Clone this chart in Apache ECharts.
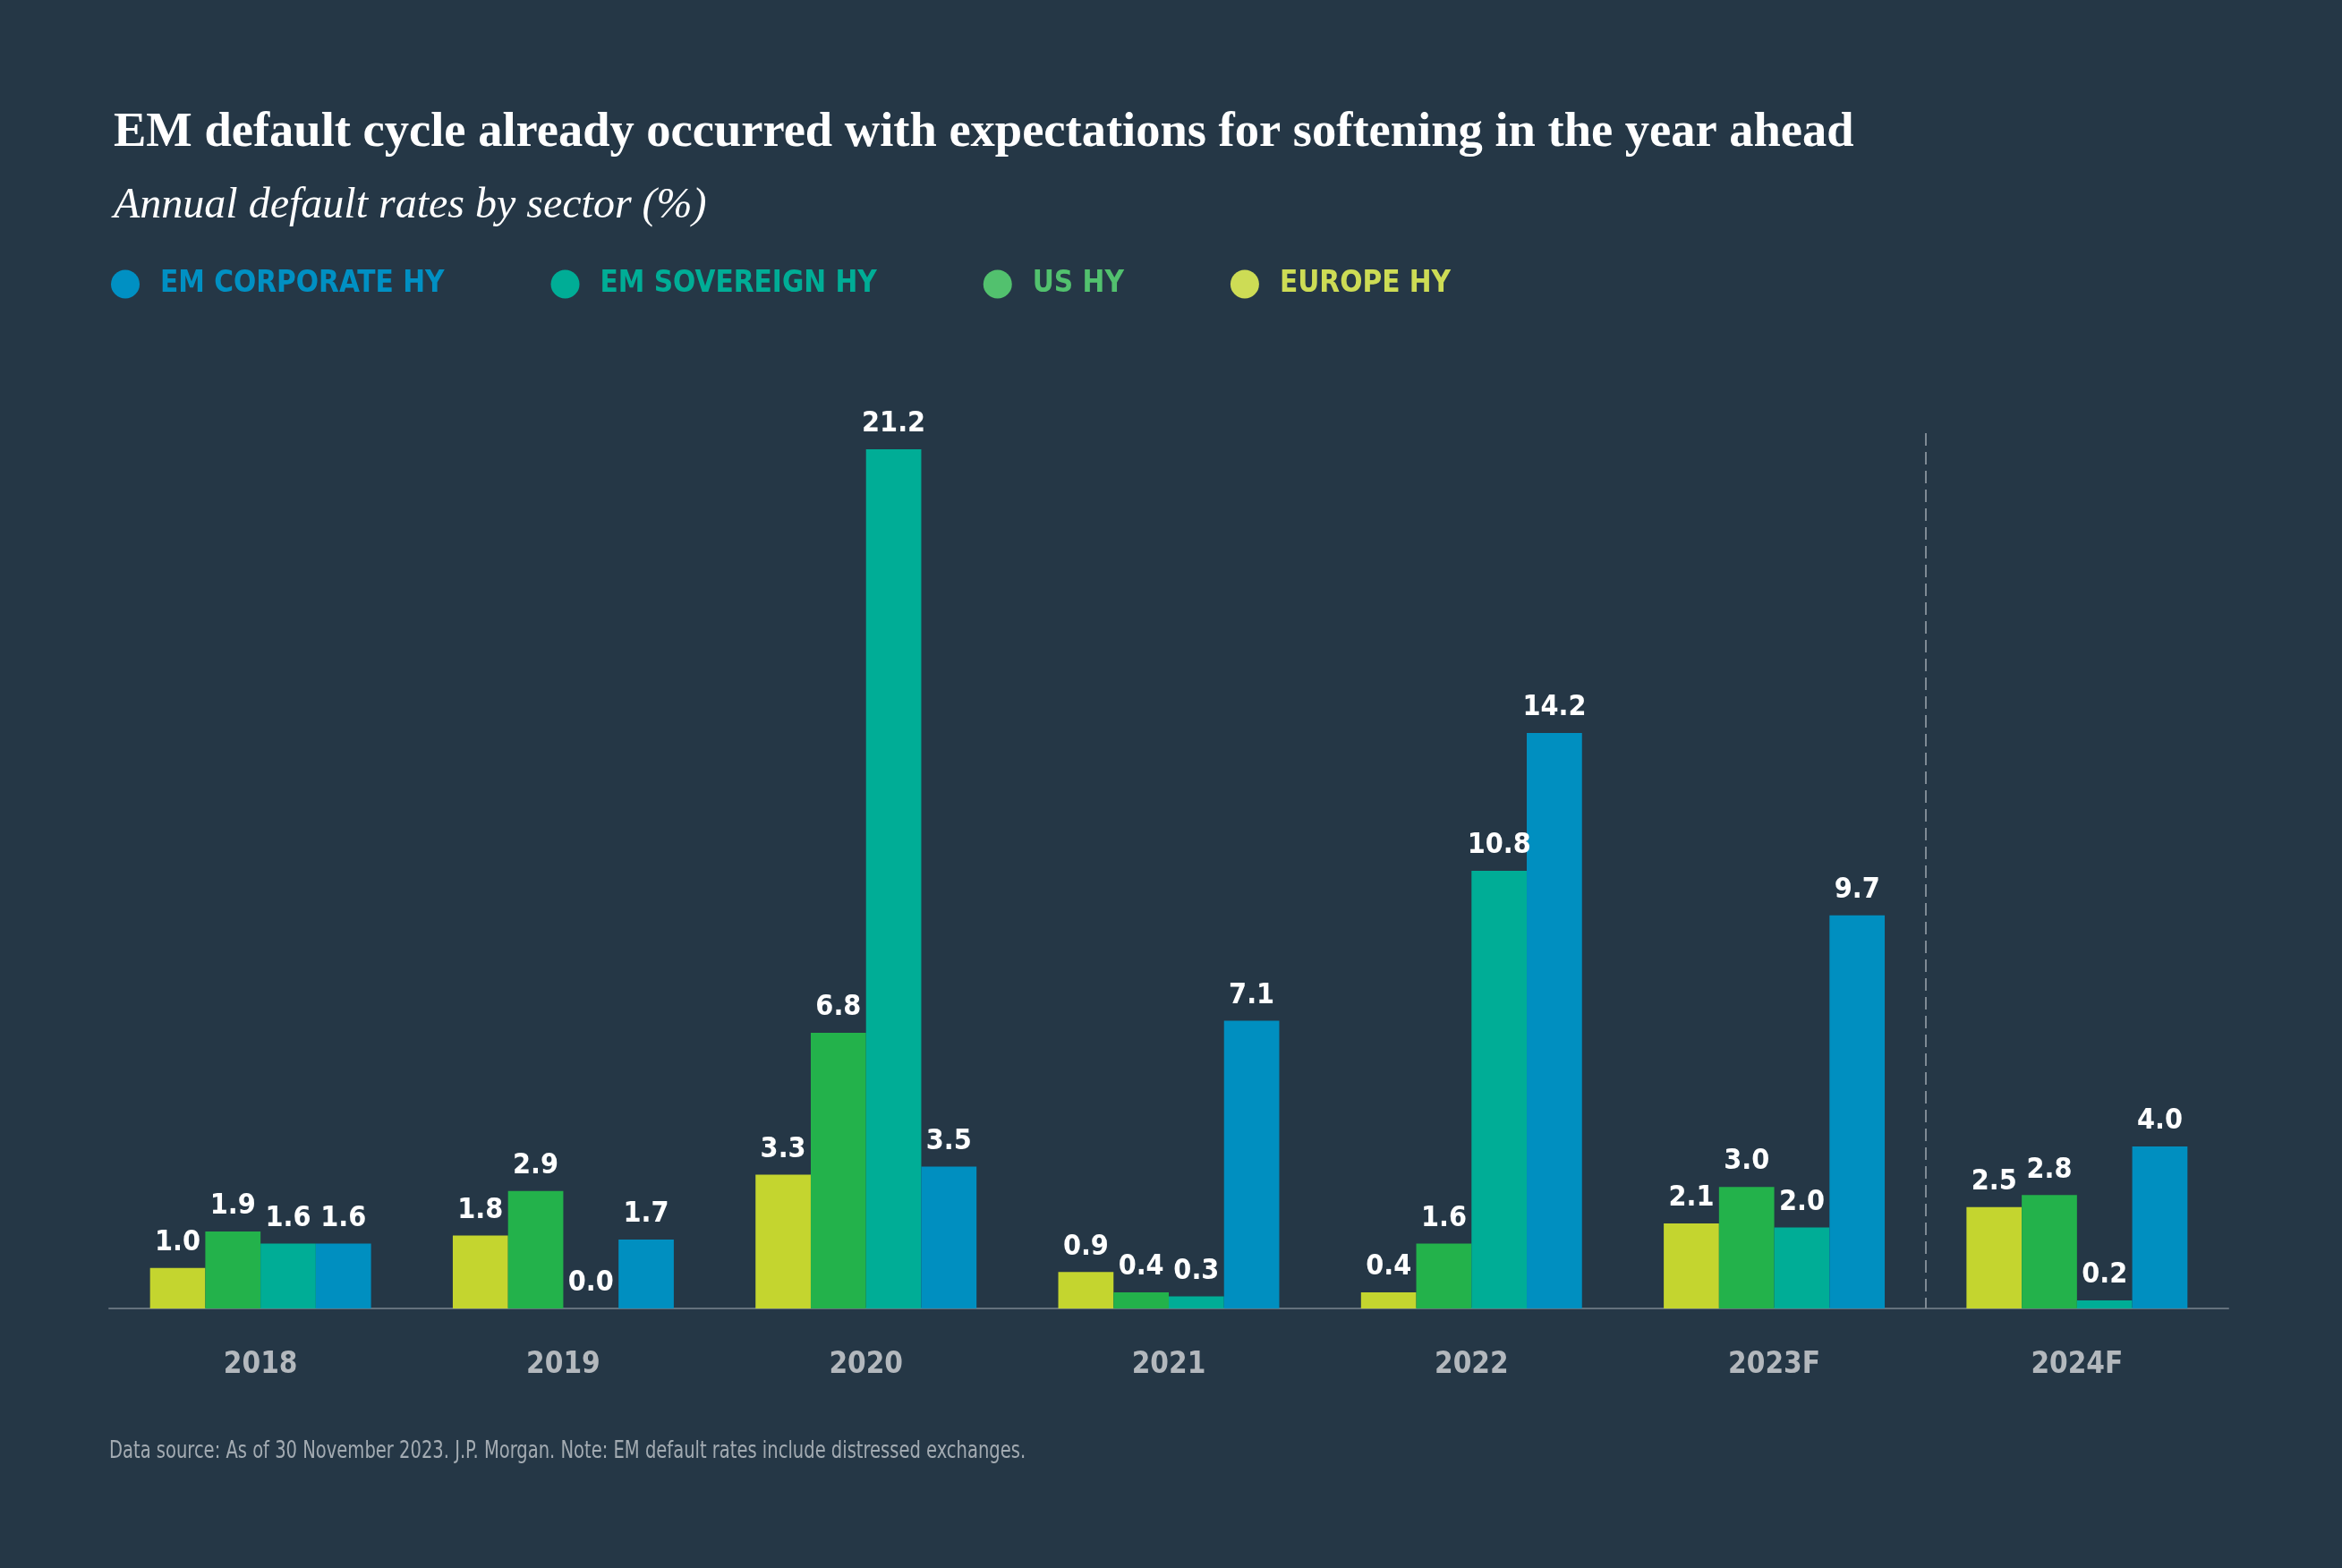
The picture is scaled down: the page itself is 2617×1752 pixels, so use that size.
<!DOCTYPE html>
<html>
<head>
<meta charset="utf-8">
<script src="https://cdn.jsdelivr.net/npm/echarts@6/dist/echarts.min.js"></script>
<style>
  html, body { margin: 0; padding: 0; background: #253746; }
  #chart { width: 2617px; height: 1752px; }
</style>
</head>
<body>
<div id="chart"></div>
<script>
// 数据
var years = ['2018', '2019', '2020', '2021', '2022', '2023F', '2024F'];
var europeHY = [1.0, 1.8, 3.3, 0.9, 0.4, 2.1, 2.5];
var usHY = [1.9, 2.9, 6.8, 0.4, 1.6, 3.0, 2.8];
var emSovereignHY = [1.6, 0.0, 21.2, 0.3, 10.8, 2.0, 0.2];
var emCorporateHY = [1.6, 1.7, 3.5, 7.1, 14.2, 9.7, 4.0];
var yMax = 21.6;

var condensed = '"Liberation Sans Narrow", "DejaVu Sans Condensed", "Roboto", sans-serif';
var serif = '"Liberation Serif", "DejaVu Serif", serif';

var chart = echarts.init(document.getElementById('chart'));

// 柱子标签
function barLabel() {
  return {
    show: true,
    position: 'top',
    distance: 12,
    color: '#ffffff',
    fontFamily: condensed,
    fontWeight: 'bold',
    fontSize: 32,
    formatter: function (p) { return p.value.toFixed(1); }
  };
}

function barSeries(name, data, color) {
  return {
    name: name,
    type: 'bar',
    data: data,
    barGap: '0%',
    barCategoryGap: '27%',
    itemStyle: { color: color },
    label: barLabel()
  };
}

var option = {
  backgroundColor: '#253746',
  animation: false,
  title: [{
    text: 'EM default cycle already occurred with expectations for softening in the year ahead',
    left: 122,
    top: 116,
    textStyle: { color: '#ffffff', fontFamily: serif, fontWeight: 'bold', fontSize: 54.5 }
  }, {
    text: 'Annual default rates by sector (%)',
    left: 122,
    top: 201,
    textStyle: { color: '#ffffff', fontFamily: serif, fontStyle: 'italic', fontWeight: 'normal', fontSize: 48 }
  }],
  legend: {
    left: 124,
    top: 301,
    padding: 0,
    icon: 'circle',
    itemWidth: 32,
    itemHeight: 32,
    itemGap: 119,
    textStyle: {
      fontFamily: condensed,
      fontWeight: 'bold',
      fontSize: 33,
      padding: [0, 0, 0, 18]
    },
    data: [
      { name: 'EM CORPORATE HY', textStyle: { color: '#0090c3' }, itemStyle: { color: '#0090c3' } },
      { name: 'EM SOVEREIGN HY', textStyle: { color: '#00ad96' }, itemStyle: { color: '#00ad96' } },
      { name: 'US HY', textStyle: { color: '#52c16e' }, itemStyle: { color: '#52c16e' } },
      { name: 'EUROPE HY', textStyle: { color: '#cddc55' }, itemStyle: { color: '#cddc55' } }
    ]
  },
  grid: { left: 122, right: 127, top: 484, bottom: 290, containLabel: false },
  xAxis: {
    type: 'category',
    data: years,
    axisLine: { lineStyle: { color: '#64717d', width: 2 } },
    axisTick: { show: false },
    axisLabel: {
      color: '#b3b8bd',
      fontFamily: condensed,
      fontWeight: 'bold',
      fontSize: 33,
      margin: 47
    },
    splitLine: { show: false }
  },
  yAxis: {
    type: 'value',
    min: 0,
    max: yMax,
    show: false,
    splitLine: { show: false }
  },
  series: [
    barSeries('EUROPE HY', europeHY, '#c4d52f'),
    barSeries('US HY', usHY, '#23b24b'),
    barSeries('EM SOVEREIGN HY', emSovereignHY, '#00ad96'),
    barSeries('EM CORPORATE HY', emCorporateHY, '#008fc0')
  ]
};

chart.setOption(option);

// 预测年份分隔虚线 + 脚注
var xA = chart.convertToPixel({ xAxisIndex: 0 }, '2023F');
var xB = chart.convertToPixel({ xAxisIndex: 0 }, '2024F');
var yBottom = chart.convertToPixel({ yAxisIndex: 0 }, 0);
var yTop = chart.convertToPixel({ yAxisIndex: 0 }, yMax);
var xMid = Math.round((xA + xB) / 2);

chart.setOption({
  graphic: [{
    type: 'line',
    shape: { x1: xMid, y1: yTop, x2: xMid, y2: yBottom },
    style: { stroke: '#7f8a94', lineWidth: 2, lineDash: [14, 7] },
    z: 1
  }, {
    type: 'text',
    left: 122,
    top: 1609,
    scaleX: 0.835,
    originX: 0,
    style: {
      text: 'Data source: As of 30 November 2023. J.P. Morgan. Note: EM default rates include distressed exchanges.',
      fill: '#a3abb2',
      font: 'normal 26px ' + condensed
    }
  }]
});
</script>
</body>
</html>
